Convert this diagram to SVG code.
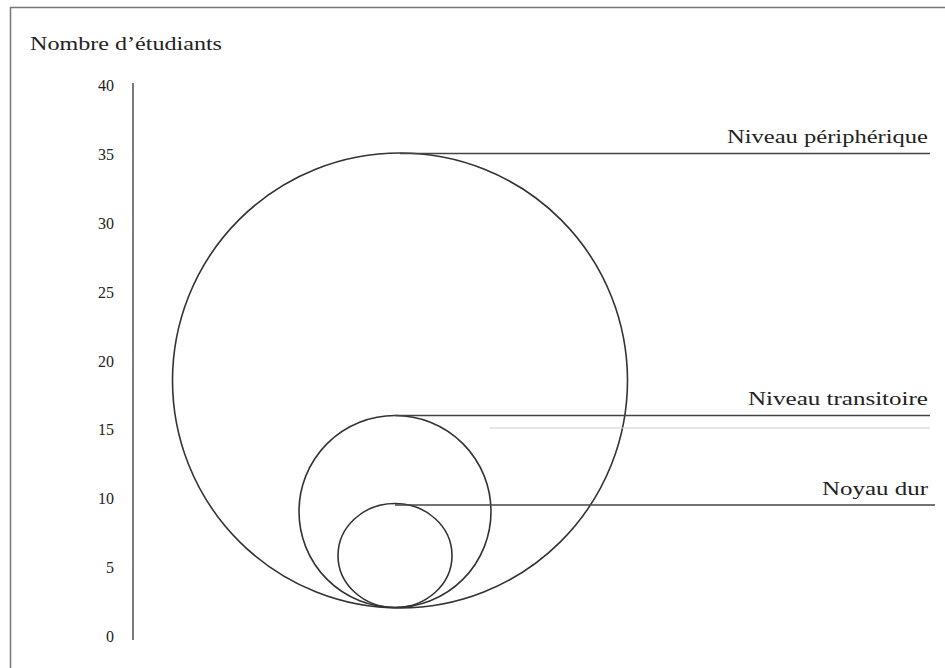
<svg xmlns="http://www.w3.org/2000/svg" width="945" height="668" viewBox="0 0 945 668">
<style>
.t{font-family:"Liberation Serif","Times New Roman",serif;fill:#222;}
.lbl{font-size:18px;}
.tick{font-size:16px;text-anchor:end;}
.c{fill:none;stroke:#333;stroke-width:1.6;}
.l{stroke:#444;stroke-width:1.4;}
</style>
<rect width="945" height="668" fill="#fff"/>
<path d="M10.5 668 V7.5 H945" fill="none" stroke="#777" stroke-width="1.5"/>
<g id="axis">
<line x1="133" y1="83" x2="133" y2="640" class="l" stroke-width="1.6"/>
<text class="t lbl" x="30" y="50" textLength="192" lengthAdjust="spacingAndGlyphs">Nombre d’étudiants</text>
<g class="t tick">
<text x="114" y="91">40</text>
<text x="114" y="160">35</text>
<text x="114" y="229">30</text>
<text x="114" y="298">25</text>
<text x="114" y="367">20</text>
<text x="114" y="435">15</text>
<text x="114" y="504">10</text>
<text x="114" y="573">5</text>
<text x="114" y="642">0</text>
</g>
</g>
<g id="peripherique">
<circle class="c" cx="400" cy="380.5" r="227.5"/>
<text class="t lbl" x="727" y="143" textLength="201" lengthAdjust="spacingAndGlyphs">Niveau périphérique</text>
</g>
<g id="transitoire">
<circle class="c" cx="395" cy="511.5" r="96"/>
<text class="t lbl" x="748" y="405" textLength="180" lengthAdjust="spacingAndGlyphs">Niveau transitoire</text>
</g>
<g id="noyau">
<ellipse class="c" cx="395" cy="555.5" rx="57" ry="52"/>
<text class="t lbl" x="822" y="495" textLength="106" lengthAdjust="spacingAndGlyphs">Noyau dur</text>
</g>
<g id="connectors">
<line class="l" x1="400" y1="153.5" x2="930" y2="153.5"/>
<line class="l" x1="395" y1="415.5" x2="930" y2="415.5"/>
<line x1="490" y1="428" x2="930" y2="428" stroke="#ccc" stroke-width="1"/>
<line class="l" x1="395" y1="505" x2="935" y2="505"/>
</g>
</svg>
